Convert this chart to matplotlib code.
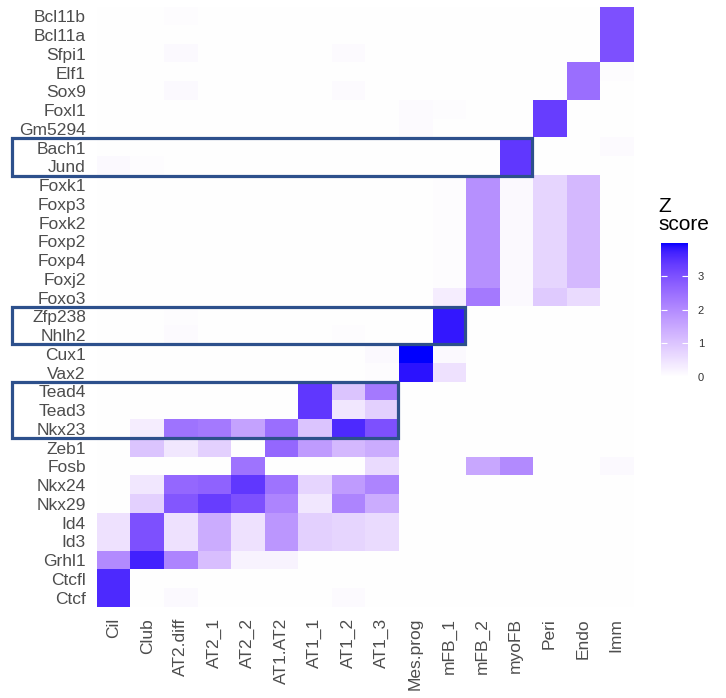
import numpy as np
import matplotlib
matplotlib.use("Agg")
import matplotlib.pyplot as plt
from matplotlib.colors import ListedColormap, Normalize
from matplotlib.patches import Rectangle

plt.rcParams['font.family'] = ['Liberation Sans', 'DejaVu Sans']

genes = ['Bcl11b', 'Bcl11a', 'Sfpi1', 'Elf1', 'Sox9', 'Foxl1', 'Gm5294', 'Bach1',
         'Jund', 'Foxk1', 'Foxp3', 'Foxk2', 'Foxp2', 'Foxp4', 'Foxj2', 'Foxo3',
         'Zfp238', 'Nhlh2', 'Cux1', 'Vax2', 'Tead4', 'Tead3', 'Nkx23', 'Zeb1',
         'Fosb', 'Nkx24', 'Nkx29', 'Id4', 'Id3', 'Grhl1', 'Ctcfl', 'Ctcf']

cell_types = ['Cil', 'Club', 'AT2.diff', 'AT2_1', 'AT2_2', 'AT1.AT2', 'AT1_1', 'AT1_2',
              'AT1_3', 'Mes.prog', 'mFB_1', 'mFB_2', 'myoFB', 'Peri', 'Endo', 'Imm']

# Z scores per cell type, one value per gene (same order as genes)
cil = [0, 0, 0, 0, 0, 0, 0, 0,
       0.1, 0, 0, 0, 0, 0, 0, 0,
       0, 0, 0, 0, 0, 0, 0, 0,
       0, 0, 0, 0.5, 0.5, 2.0, 3.6, 3.6]
club = [0, 0, 0, 0, 0, 0, 0, 0,
        0.05, 0, 0, 0, 0, 0, 0, 0,
        0, 0, 0, 0, 0, 0, 0.3, 1.0,
        0.03, 0.4, 0.8, 3.0, 3.0, 3.7, 0, 0]
at2_diff = [0.05, 0.03, 0.1, 0.03, 0.1, 0, 0, 0,
            0, 0, 0, 0, 0, 0, 0, 0,
            0.05, 0.08, 0, 0, 0, 0, 2.4, 0.4,
            0, 2.6, 2.9, 0.5, 0.5, 2.1, 0, 0.1]
at2_1 = [0, 0, 0, 0, 0, 0, 0, 0,
         0, 0, 0, 0, 0, 0, 0, 0,
         0, 0, 0, 0, 0, 0, 2.3, 0.8,
         0, 2.7, 3.3, 1.4, 1.4, 1.1, 0, 0]
at2_2 = [0, 0, 0, 0, 0, 0, 0, 0,
         0, 0, 0, 0, 0, 0, 0, 0,
         0, 0, 0.03, 0, 0, 0, 1.6, 0,
         2.4, 3.4, 3.0, 0.5, 0.5, 0.2, 0, 0]
at1_at2 = [0, 0, 0, 0, 0, 0, 0, 0,
           0, 0, 0, 0, 0, 0, 0, 0,
           0, 0, 0, 0, 0, 0, 2.5, 2.6,
           0, 2.4, 2.1, 1.8, 1.8, 0.2, 0, 0]
at1_1 = [0, 0, 0, 0, 0, 0, 0, 0,
         0, 0, 0, 0, 0, 0, 0, 0,
         0, 0, 0, 0, 3.4, 3.4, 1.0, 1.7,
         0, 0.7, 0.4, 0.8, 0.8, 0, 0, 0]
at1_2 = [0, 0, 0.08, 0, 0.08, 0, 0, 0,
         0, 0, 0, 0, 0, 0, 0, 0,
         0, 0.05, 0, 0, 1.0, 0.4, 3.6, 1.2,
         0, 1.7, 2.1, 0.7, 0.7, 0, 0, 0.08]
at1_3 = [0, 0, 0, 0, 0, 0, 0, 0,
         0, 0, 0, 0, 0, 0, 0, 0,
         0, 0, 0.1, 0.05, 2.3, 0.8, 3.0, 1.4,
         0.6, 2.1, 1.4, 0.6, 0.6, 0, 0, 0]
mes_prog = [0, 0, 0, 0, 0, 0.08, 0.08, 0,
            0, 0, 0, 0, 0, 0, 0, 0,
            0, 0, 3.98, 3.85, 0, 0, 0, 0,
            0, 0, 0, 0, 0, 0, 0, 0]
mfb_1 = [0, 0, 0, 0, 0, 0.05, 0.03, 0,
         0, 0.05, 0.05, 0.05, 0.05, 0.05, 0.05, 0.3,
         3.8, 3.8, 0.1, 0.5, 0, 0, 0, 0,
         0, 0, 0, 0, 0, 0, 0, 0]
mfb_2 = [0, 0, 0, 0, 0, 0, 0, 0,
         0, 1.9, 1.9, 1.9, 1.9, 1.9, 1.9, 2.3,
         0, 0, 0, 0, 0, 0, 0, 0,
         1.5, 0, 0, 0, 0, 0, 0, 0]
myofb = [0, 0, 0, 0, 0, 0, 0, 3.4,
         3.4, 0.1, 0.1, 0.1, 0.1, 0.1, 0.1, 0.1,
         0, 0, 0, 0, 0, 0, 0, 0,
         2.0, 0, 0, 0, 0, 0, 0, 0]
peri = [0, 0, 0, 0, 0, 3.3, 3.3, 0,
        0, 0.7, 0.7, 0.7, 0.7, 0.7, 0.7, 0.9,
        0, 0, 0, 0, 0, 0, 0, 0,
        0, 0, 0, 0, 0, 0, 0, 0]
endo = [0, 0, 0, 2.5, 2.5, 0, 0, 0,
        0, 1.2, 1.2, 1.2, 1.2, 1.2, 1.2, 0.6,
        0, 0, 0, 0, 0, 0, 0, 0,
        0, 0, 0, 0, 0, 0, 0, 0]
imm = [3.0, 3.0, 3.0, 0.05, 0, 0, 0, 0.08,
       0, 0, 0, 0, 0, 0, 0, 0,
       0, 0, 0, 0, 0, 0, 0, 0,
       0.1, 0, 0, 0, 0, 0, 0, 0]

# gene groups outlined, with the cell type where the outline ends
highlights = [(['Bach1', 'Jund'], 'myoFB'),
              (['Zfp238', 'Nhlh2'], 'mFB_1'),
              (['Tead4', 'Tead3', 'Nkx23'], 'AT1_3')]

z = np.column_stack([cil, club, at2_diff, at2_1, at2_2, at1_at2, at1_1, at1_2,
                     at1_3, mes_prog, mfb_1, mfb_2, myofb, peri, endo, imm])


# white -> blue ramp interpolated in CIELAB
def srgb_to_lab(rgb):
    c = np.asarray(rgb, float)
    lin = np.where(c <= 0.04045, c / 12.92, ((c + 0.055) / 1.055) ** 2.4)
    m = np.array([[0.4124, 0.3576, 0.1805],
                  [0.2126, 0.7152, 0.0722],
                  [0.0193, 0.1192, 0.9505]])
    xyz = m @ lin / np.array([0.95047, 1.0, 1.08883])
    f = np.where(xyz > 0.008856, np.cbrt(xyz), 7.787 * xyz + 16 / 116)
    return np.array([116 * f[1] - 16, 500 * (f[0] - f[1]), 200 * (f[1] - f[2])])


def lab_to_srgb(lab):
    L, a, b = lab
    fy = (L + 16) / 116
    fx = fy + a / 500
    fz = fy - b / 200
    f = np.array([fx, fy, fz])
    xyz = np.where(f ** 3 > 0.008856, f ** 3, (f - 16 / 116) / 7.787)
    xyz = xyz * np.array([0.95047, 1.0, 1.08883])
    minv = np.array([[3.2406, -1.5372, -0.4986],
                     [-0.9689, 1.8758, 0.0415],
                     [0.0557, -0.2040, 1.0570]])
    lin = np.clip(minv @ xyz, 0, 1)
    c = np.where(lin <= 0.0031308, 12.92 * lin, 1.055 * lin ** (1 / 2.4) - 0.055)
    return np.clip(c, 0, 1)


lab_lo = srgb_to_lab([1, 1, 1])
lab_hi = srgb_to_lab([0, 0, 1])
ramp = [lab_to_srgb(lab_lo + t * (lab_hi - lab_lo)) for t in np.linspace(0, 1, 256)]
cmap = ListedColormap(ramp)
norm = Normalize(vmin=0, vmax=z.max())

fig = plt.figure(figsize=(7.26, 6.98), dpi=100)
ax = fig.add_axes([0.1336, 0.1304, 0.7383, 0.8596])
im = ax.imshow(z, cmap=cmap, norm=norm, aspect='auto', interpolation='nearest')

ax.set_xticks(range(len(cell_types)))
ax.set_xticklabels(cell_types, rotation=90)
ax.set_yticks(range(len(genes)))
ax.set_yticklabels(genes)
ax.tick_params(length=0, labelsize=12.5, labelcolor='#4d4d4d', pad=8)
for s in ax.spines.values():
    s.set_visible(False)

# outlines run from the label column to the last highlighted cell type
for rows, last in highlights:
    r0 = genes.index(rows[0]) - 0.5
    x1 = cell_types.index(last) + 0.5
    x0 = -3.05
    ax.add_patch(Rectangle((x0, r0), x1 - x0, len(rows), fill=False,
                           edgecolor='#2d508c', linewidth=2.3, clip_on=False,
                           zorder=5))

cax = fig.add_axes([0.9105, 0.4599, 0.0372, 0.192])
cb = fig.colorbar(im, cax=cax, ticks=[0, 1, 2, 3])
cb.outline.set_visible(False)
cax.tick_params(direction='in', length=4, width=0.8, color='white',
                left=True, right=True, labelsize=8, labelcolor='#333333', pad=7)
fig.text(658 / 726, 1 - 197 / 698, 'Z\nscore', fontsize=15, ha='left', va='top',
         linespacing=0.95)

fig.savefig('out.png', dpi=100)
